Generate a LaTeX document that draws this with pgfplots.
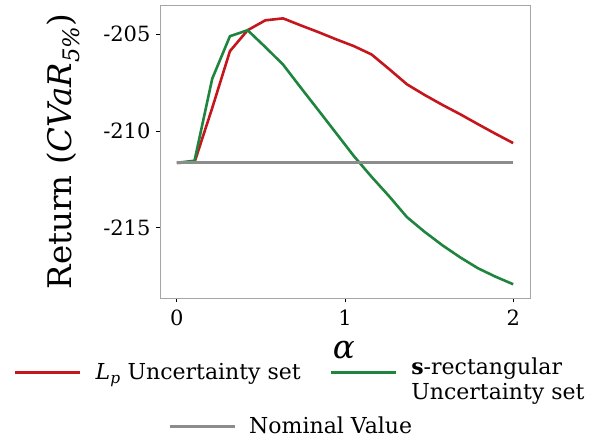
\documentclass[border=0pt]{standalone}
\usepackage{fontspec}
\setmainfont{DejaVu Serif}
\usepackage{pgfplots}
\pgfplotsset{compat=1.18}
\definecolor{cred}{RGB}{196,22,28}
\definecolor{cgreen}{RGB}{30,132,62}
\definecolor{cgray}{RGB}{140,140,140}
\definecolor{frame}{RGB}{165,165,165}
\newcommand{\tickfont}{\fontsize{21}{25}\selectfont}
\newcommand{\legfont}{\fontsize{22}{25}\selectfont}
\newcommand{\labfont}{\fontsize{32.5}{38}\selectfont}
\begin{document}
\begin{tikzpicture}
\path[use as bounding box] (-160pt,-142pt) rectangle (441pt,298pt);
\begin{axis}[
  at={(0pt,0pt)}, anchor=south west,
  scale only axis, width=370pt, height=293pt,
  xmin=-0.1, xmax=2.1, ymin=-218.62, ymax=-203.51,
  axis line style={frame, line width=0.9pt},
  tick pos=left, tick align=outside, major tick length=4pt,
  tick style={black, line width=0.7pt},
  xtick={0,1,2}, xticklabels={0,1,2},
  ytick={-215,-210,-205}, yticklabels={-215,-210,-205},
  ticklabel style={font=\tickfont},
  xticklabel style={yshift=-4pt},
  yticklabel style={xshift=-2pt},
  xlabel={\textit{α}},
  xlabel style={font=\labfont, at={(axis description cs:0.497,-0.177)}, anchor=center},
  ylabel={Return (\textit{CVaR}\textsubscript{\textit{5\%}})},
  ylabel style={font=\labfont, at={(axis description cs:-0.262,0.5)}, anchor=center, rotate=0},
  legend columns=2,
  legend image code/.code={\draw[#1] (0pt,0pt) -- (65pt,0pt);},
  legend style={draw=none, fill=none, inner sep=0pt, font=\legfont,
    at={(axis description cs:-0.395,-0.2)}, anchor=north west,
    nodes={inner sep=0pt, anchor=west},
    column sep=14pt,
    /tikz/every even column/.append style={column sep=29pt}},
]
\addplot[cred, line width=2.6pt] coordinates {
(0,-211.65) (0.105263,-211.62) (0.210526,-208.82) (0.315789,-205.89)
(0.421053,-204.81) (0.526316,-204.30) (0.631579,-204.20) (0.736842,-204.56)
(0.842105,-204.91) (0.947368,-205.28) (1.052632,-205.63) (1.157895,-206.06)
(1.263158,-206.82) (1.368421,-207.60) (1.473684,-208.15) (1.578947,-208.66)
(1.684211,-209.14) (1.789474,-209.65) (1.894737,-210.15) (2,-210.63)};
\addlegendentry{\textit{L}\textsubscript{\textit{p}} Uncertainty set}
\addplot[cgreen, line width=2.6pt] coordinates {
(0,-211.65) (0.105263,-211.54) (0.210526,-207.31) (0.315789,-205.12)
(0.421053,-204.81) (0.526316,-205.68) (0.631579,-206.58) (0.736842,-207.77)
(0.842105,-208.94) (0.947368,-210.12) (1.052632,-211.30) (1.157895,-212.37)
(1.263158,-213.38) (1.368421,-214.45) (1.473684,-215.21) (1.578947,-215.90)
(1.684211,-216.52) (1.789474,-217.08) (1.894737,-217.52) (2,-217.91)};
\addlegendentry{\begin{tabular}{@{}l@{}}\textbf{s}-rectangular\\Uncertainty set\end{tabular}}
\addplot[cgray, line width=3pt, forget plot] coordinates {(0,-211.65) (2,-211.65)};
\end{axis}
\begin{axis}[
  at={(0pt,0pt)}, anchor=south west,
  scale only axis, width=370pt, height=293pt,
  xmin=-0.1, xmax=2.1, ymin=-218.62, ymax=-203.51,
  hide axis,
  legend image code/.code={\draw[#1] (0pt,0pt) -- (65pt,0pt);},
  legend style={draw=none, fill=none, inner sep=0pt, font=\legfont,
    at={(axis description cs:0.0216,-0.437)}, anchor=west,
    nodes={inner sep=0pt, anchor=west},
    column sep=13pt},
]
\addlegendimage{cgray, line width=3pt}
\addlegendentry{Nominal Value}
\end{axis}
\end{tikzpicture}
\end{document}
